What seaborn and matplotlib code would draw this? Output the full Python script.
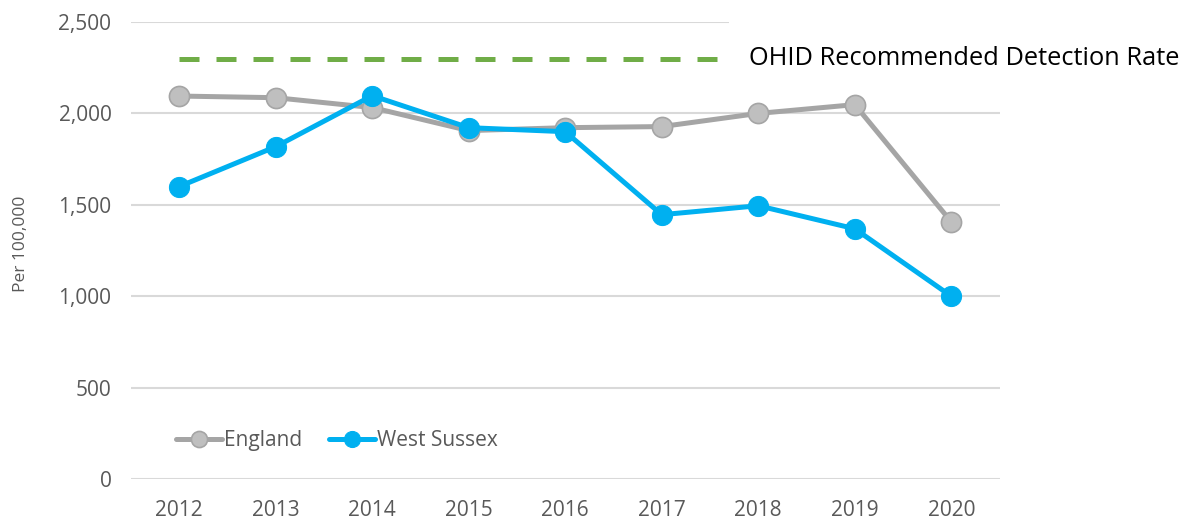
import pandas as pd
import numpy as np
import seaborn as sns
import matplotlib.pyplot as plt
from matplotlib.patches import Rectangle

# values (per 100,000)
years = ['2012', '2013', '2014', '2015', '2016', '2017', '2018', '2019', '2020']
england = [2095, 2086, 2032, 1906, 1922, 1928, 2000, 2048, 1407]
west_sussex = [1600, 1818, 2097, 1922, 1900, 1446, 1495, 1369, 1000]
rec_years = ['2012', '2013', '2014', '2015', '2016', '2017', '2018']
rec_rate = 2300
yticks = [0, 500, 1000, 1500, 2000, 2500]

sns.set_style('white')
plt.rcParams['font.family'] = ['Open Sans', 'DejaVu Sans']

df = pd.DataFrame({'pos': np.arange(len(years)), 'England': england, 'West Sussex': west_sussex})
rec = pd.DataFrame({'pos': np.arange(len(rec_years)), 'rate': [rec_rate] * len(rec_years)})

fig = plt.figure(figsize=(11.85, 5.19), dpi=100)
ax = fig.add_axes([0.1105, 0.077, 0.733, 0.8806])

grey_line = '#A5A5A5'
grey_fill = '#BFBFBF'
blue = '#00B0F0'
green = '#70AD47'

# recommended rate (dashed)
sns.lineplot(x='pos', y='rate', data=rec, ax=ax, color=green, linewidth=3.6,
             dashes=False, zorder=2)
ax.lines[-1].set_dashes((4, 3.4))

sns.lineplot(x='pos', y='England', data=df, ax=ax, color=grey_line, linewidth=3.6,
             marker='o', markersize=14.5, markerfacecolor=grey_fill,
             markeredgecolor=grey_line, markeredgewidth=1.2, label='England',
             zorder=4, clip_on=False)
sns.lineplot(x='pos', y='West Sussex', data=df, ax=ax, color=blue, linewidth=3.6,
             marker='o', markersize=14.5, markerfacecolor=blue,
             markeredgecolor=blue, label='West Sussex', zorder=5, clip_on=False)

# white label box hides the end of the dashed line and the top gridline
ax.add_patch(Rectangle((0.688, 0.865), 0.6, 0.16, transform=ax.transAxes,
                       facecolor='white', edgecolor='none', zorder=3, clip_on=False))
ax.text(6.0 - 9 / 96.6, rec_rate, 'OHID Recommended Detection Rate', fontsize=18.3,
        color='black', va='center', ha='left', zorder=3.5, clip_on=False)

ax.set_xlim(-0.5, len(years) - 0.5)
ax.set_ylim(0, 2500)
ax.set_xticks(np.arange(len(years)))
ax.set_xticklabels(years)
ax.set_yticks(yticks)
ax.set_yticklabels([f'{v:,}' for v in yticks])
ax.tick_params(axis='both', labelsize=15, labelcolor='#595959', length=0)
ax.tick_params(axis='x', pad=15)
ax.tick_params(axis='y', pad=14)

ax.yaxis.grid(True, color='#D9D9D9', linewidth=1.5)
ax.set_axisbelow(True)
for s in ax.spines.values():
    s.set_visible(False)

ax.set_xlabel('')
ax.set_ylabel('Per 100,000', fontsize=12.5, color='#595959')
ax.yaxis.set_label_coords(-0.117, 0.515)

ax.legend(loc='lower left', bbox_to_anchor=(0.03, 0.02), ncol=2, frameon=False,
          fontsize=15, labelcolor='#595959', handlelength=2.2, handletextpad=0.1,
          columnspacing=1.3, markerscale=0.8)

fig.savefig('out.png', dpi=100, facecolor='white')
